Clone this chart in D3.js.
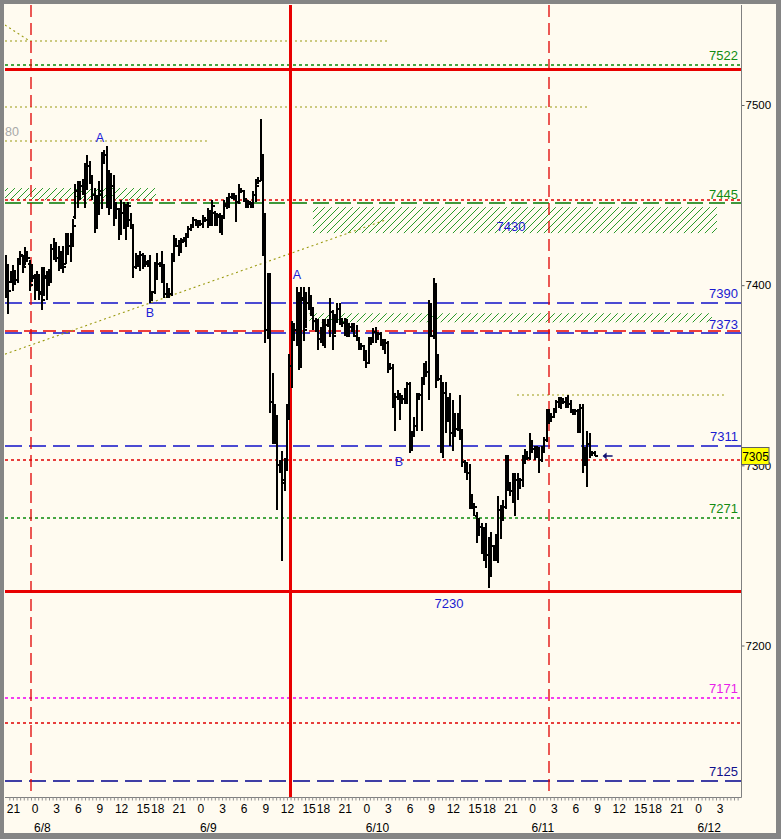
<!DOCTYPE html>
<html>
<head>
<meta charset="utf-8">
<script src="https://cdn.jsdelivr.net/npm/d3@7"></script>
<style>
  html, body { margin: 0; padding: 0; background: #858585; }
  svg { display: block; }
  text { font-family: "Liberation Sans", Arial, sans-serif; }
</style>
</head>
<body>
<svg id="chart" width="781" height="839"></svg>
<script>
// ---- price bars (20-minute bars), oldest first ----
const open = [7400,7410,7402,7405,7406,7403,7413,7416,7411,7418,7412,7403,7404,7398,7402,7396,7395,7404,7401,7405,7420,7418,7415,7412,7415,7412,7425,7422,7425,7438,7452,7448,7455,7452,7460,7466,7460,7450,7434,7445,7450,7470,7472,7450,7445,7455,7440,7442,7436,7440,7443,7435,7436,7432,7410,7415,7412,7417,7414,7412,7412,7392,7396,7410,7412,7411,7404,7395,7397,7395,7414,7425,7422,7420,7425,7425,7428,7431,7433,7436,7434,7435,7434,7437,7436,7440,7435,7440,7434,7438,7432,7438,7444,7446,7449,7450,7448,7446,7453,7452,7447,7444,7445,7444,7450,7457,7458,7470,7430,7375,7400,7335,7318,7315,7300,7298,7290,7302,7328,7355,7370,7375,7392,7365,7392,7378,7390,7393,7386,7380,7377,7370,7374,7368,7378,7379,7385,7374,7382,7387,7381,7379,7376,7373,7377,7375,7372,7370,7366,7366,7360,7357,7368,7370,7374,7371,7373,7369,7366,7368,7355,7354,7335,7338,7337,7335,7337,7341,7345,7315,7317,7322,7338,7339,7346,7354,7352,7385,7372,7398,7358,7348,7330,7340,7325,7333,7318,7325,7320,7327,7318,7302,7300,7296,7280,7278,7272,7263,7266,7255,7260,7250,7240,7255,7250,7258,7275,7270,7277,7300,7290,7286,7283,7292,7288,7292,7302,7307,7304,7313,7309,7305,7309,7303,7308,7314,7328,7325,7327,7330,7335,7333,7336,7335,7337,7334,7330,7329,7330,7320,7332,7302,7308,7312,7306,7307];
const high = [7417,7412,7408,7411,7408,7415,7419,7417,7421,7419,7414,7412,7406,7408,7406,7410,7410,7408,7409,7423,7426,7424,7422,7419,7422,7429,7429,7429,7437,7456,7458,7458,7459,7468,7472,7469,7461,7454,7450,7458,7474,7475,7477,7464,7462,7461,7446,7443,7447,7446,7445,7446,7440,7434,7418,7417,7419,7418,7417,7414,7417,7397,7413,7418,7413,7419,7412,7401,7398,7418,7428,7426,7425,7426,7427,7429,7433,7434,7438,7437,7436,7436,7439,7438,7443,7441,7447,7441,7440,7440,7439,7447,7449,7451,7451,7451,7450,7456,7454,7453,7448,7447,7446,7452,7459,7460,7492,7473,7440,7407,7407,7351,7334,7328,7303,7308,7304,7334,7362,7380,7379,7399,7396,7399,7399,7396,7399,7394,7388,7382,7381,7377,7381,7381,7381,7393,7386,7384,7390,7390,7382,7382,7381,7379,7379,7379,7378,7371,7368,7367,7364,7371,7371,7376,7377,7374,7374,7370,7370,7369,7357,7356,7340,7342,7340,7339,7343,7346,7346,7319,7327,7340,7340,7349,7357,7358,7392,7390,7404,7401,7362,7350,7346,7346,7338,7340,7336,7329,7329,7339,7320,7303,7302,7301,7284,7279,7274,7271,7268,7266,7268,7260,7263,7256,7262,7283,7278,7281,7306,7306,7291,7296,7296,7296,7293,7306,7309,7308,7318,7314,7311,7311,7310,7311,7316,7331,7331,7329,7332,7336,7338,7338,7337,7338,7339,7336,7331,7331,7331,7334,7334,7310,7319,7318,7308,7308];
const low = [7393,7384,7401,7397,7400,7401,7411,7407,7411,7413,7397,7402,7392,7397,7392,7386,7394,7392,7400,7401,7414,7413,7408,7409,7407,7412,7417,7413,7421,7437,7443,7447,7450,7443,7453,7456,7447,7429,7431,7439,7442,7467,7443,7439,7442,7433,7437,7425,7428,7431,7425,7433,7431,7404,7409,7410,7408,7409,7410,7410,7390,7391,7395,7403,7410,7401,7393,7393,7393,7394,7413,7421,7416,7418,7424,7421,7426,7430,7432,7433,7432,7433,7432,7435,7432,7433,7433,7433,7433,7429,7428,7437,7442,7443,7448,7447,7435,7445,7451,7446,7443,7443,7443,7443,7446,7456,7458,7416,7368,7370,7329,7312,7312,7275,7296,7247,7286,7297,7325,7343,7369,7366,7353,7354,7369,7376,7386,7383,7375,7374,7364,7368,7366,7365,7377,7371,7364,7373,7379,7378,7377,7372,7371,7371,7374,7371,7369,7364,7364,7358,7354,7356,7367,7368,7368,7370,7366,7364,7362,7351,7353,7332,7319,7336,7325,7334,7334,7334,7307,7308,7316,7319,7336,7319,7345,7349,7336,7371,7370,7343,7347,7307,7304,7318,7324,7311,7308,7316,7319,7314,7299,7296,7292,7276,7276,7272,7257,7261,7251,7247,7243,7232,7238,7247,7247,7246,7259,7269,7276,7286,7283,7279,7272,7281,7287,7288,7301,7303,7303,7307,7303,7304,7296,7302,7307,7313,7323,7324,7326,7329,7332,7331,7334,7332,7332,7329,7328,7328,7318,7318,7296,7301,7288,7304,7305,7305];
const close = [7410,7397,7405,7408,7403,7413,7417,7410,7418,7415,7400,7405,7398,7404,7395,7392,7405,7400,7406,7420,7418,7415,7412,7416,7410,7425,7422,7426,7433,7452,7448,7455,7452,7460,7466,7460,7450,7432,7445,7452,7470,7472,7450,7445,7455,7438,7442,7436,7440,7443,7433,7444,7432,7410,7416,7412,7417,7414,7413,7411,7392,7396,7410,7412,7411,7403,7395,7398,7395,7414,7425,7422,7420,7424,7426,7428,7431,7433,7436,7434,7435,7434,7437,7436,7441,7435,7444,7434,7439,7432,7438,7445,7446,7449,7450,7448,7446,7453,7452,7448,7444,7446,7444,7450,7455,7458,7470,7430,7375,7400,7335,7318,7315,7300,7298,7292,7302,7328,7355,7370,7375,7392,7365,7393,7375,7390,7394,7386,7380,7377,7370,7374,7368,7378,7379,7385,7372,7382,7387,7381,7379,7376,7373,7377,7375,7372,7370,7366,7366,7360,7357,7368,7370,7374,7370,7373,7369,7366,7368,7355,7354,7335,7338,7337,7335,7337,7341,7345,7315,7317,7322,7337,7339,7345,7354,7352,7385,7372,7398,7360,7348,7330,7340,7325,7333,7318,7325,7320,7327,7318,7302,7300,7296,7280,7278,7277,7262,7266,7255,7260,7250,7240,7255,7250,7258,7275,7270,7277,7300,7290,7286,7283,7292,7288,7292,7302,7307,7304,7313,7309,7305,7309,7303,7308,7314,7328,7325,7327,7330,7335,7333,7337,7335,7337,7334,7330,7329,7330,7320,7332,7300,7308,7312,7306,7307,7305];

// first bar sits 12 slots (4 hours) before 6/8 00:00
const firstSlot = -12;
const lastPrice = 7305;

// ---- time axis: 20-minute slots, 23 trading hours per day (one-hour break after 15:00) ----
const slotsPerDay = 69;
const dayNames = ["6/8", "6/9", "6/10", "6/11", "6/12"];
const hourTicks = [
  { day: -1, hours: [21] },
  { day: 0, hours: [0, 3, 6, 9, 12, 15, 18, 21] },
  { day: 1, hours: [0, 3, 6, 9, 12, 15, 18, 21] },
  { day: 2, hours: [0, 3, 6, 9, 12, 15, 18, 21] },
  { day: 3, hours: [0, 3, 6, 9, 12, 15, 18, 21] },
  { day: 4, hours: [0, 3] }
];
function slotOf(day, hour) {
  return day * slotsPerDay + (hour <= 15 ? hour * 3 : (hour - 1) * 3);
}

// ---- horizontal levels ----
const levelPrices = [7535.5, 7522, 7520, 7499, 7480, 7447, 7445.5, 7390, 7374.7, 7373.4, 7339, 7311, 7303, 7271, 7230, 7171, 7157, 7125];
const levelKinds  = ["olive", "greenShort", "redThick", "olive", "olive", "redDot", "greenLong", "blueLong", "redLong", "blueLong", "olive", "blueLong", "redDot", "greenDot", "redThick", "magenta", "redDot", "navyLong"];
const levelStart  = [null, null, null, null, null, null, null, null, null, null, 200.7, null, null, null, null, null, null, null];
const levelEnd    = [147, null, null, 231, 71.7, null, null, null, null, null, 286.8, null, null, null, null, null, null, null];

// labelled levels on the right edge
const tagValues = [7522, 7445, 7390, 7373, 7311, 7271, 7171, 7125];
const tagKinds  = ["green", "green", "blue", "blue", "blue", "green", "magenta", "navy"];

// ---- hatched zones: [price top, price bottom], [slot from, slot to] ----
const zoneTops    = [7453.9, 7443.3, 7384.4];
const zoneBottoms = [7447.2, 7428.9, 7379.4];
const zoneFrom    = [-12.3, 115.8, 114.3];
const zoneTo      = [50.5, 283.9, 281.8];

// ---- trend lines: [slot, price] pairs ----
const trendLines = [
  [[-12.3, 7361.7], [145.8, 7436.1]],
  [[-12.3, 7544.4], [-2, 7535.5]]
];

// ---- vertical markers (slot) ----
const markerSlots = [-1.5, 106.3, 214.2];
const markerKinds = ["redDash", "redThick", "redDash"];

// ---- wave labels ----
const waveText   = ["A", "B", "A", "B"];
const waveSlot   = [27.2, 48.0, 109.2, 151.6];
const wavePrice  = [7482.2, 7385.0, 7406.1, 7302.2];

// ---- zone captions ----
const captionText  = ["7430", "7230"];
const captionSlot  = [198.2, 172.4];
const captionPrice = [7432.8, 7223.3];

// ================= drawing =================
const W = 781, H = 839;
const plot = { left: 5, right: 741, top: 5, bottom: 797 };

const svg = d3.select("#chart");
const x = d3.scaleLinear().domain([-12.3, 293.9]).range([plot.left, plot.right]);
const y = d3.scaleLinear().domain([7200, 7500]).range([645.5, 105]);

const styles = {
  olive:      { stroke: "#9a9a10", width: 1.1, dash: "2,3" },
  greenShort: { stroke: "#0a8a0a", width: 1.3, dash: "3,3" },
  greenDot:   { stroke: "#0a8a0a", width: 1.3, dash: "3,3" },
  greenLong:  { stroke: "#007800", width: 1.4, dash: "16,6" },
  redThick:   { stroke: "#e80000", width: 3, dash: null },
  redDot:     { stroke: "#e00000", width: 1.3, dash: "3,3" },
  redLong:    { stroke: "#e80000", width: 1.4, dash: "13,6" },
  redDash:    { stroke: "#e00000", width: 1.3, dash: "12,6" },
  blueLong:   { stroke: "#1010c8", width: 1.4, dash: "17,7" },
  navyLong:   { stroke: "#00008c", width: 1.4, dash: "17,7" },
  magenta:    { stroke: "#f000f0", width: 1.3, dash: "3,3" }
};
const tagColors = { green: "#128c12", blue: "#1a1ad0", magenta: "#e820e8", navy: "#10108c" };

// thin lines sit on a pixel boundary so they spread over two rows
const snapY = (v, w) => w >= 2 ? Math.round(y(v)) + 0.5 : Math.round(y(v));
const snapX = (s, w) => w >= 2 ? Math.round(x(s)) + 0.5 : Math.round(x(s));

// window background
svg.append("rect").attr("x", 4).attr("y", 4).attr("width", W - 9).attr("height", H - 10)
  .attr("fill", "#fffbf0");

const defs = svg.append("defs");
defs.append("clipPath").attr("id", "plotClip").append("rect")
  .attr("x", plot.left).attr("y", plot.top)
  .attr("width", plot.right - plot.left).attr("height", plot.bottom - plot.top);

// diagonal hatch for the zones
const hatch = defs.append("pattern").attr("id", "hatch")
  .attr("patternUnits", "userSpaceOnUse").attr("width", 7).attr("height", 7);
hatch.append("path").attr("d", "M-1,8 L8,-1")
  .attr("stroke", "#2a9a2a").attr("stroke-width", 1);

const g = svg.append("g").attr("clip-path", "url(#plotClip)");

// hatched zones
g.selectAll("rect.zone").data(zoneTops).join("rect").attr("class", "zone")
  .attr("x", (d, i) => x(zoneFrom[i]))
  .attr("width", (d, i) => x(zoneTo[i]) - x(zoneFrom[i]))
  .attr("y", d => y(d))
  .attr("height", (d, i) => y(zoneBottoms[i]) - y(d))
  .attr("fill", "url(#hatch)");

// horizontal levels
g.selectAll("line.level").data(levelPrices).join("line").attr("class", "level")
  .attr("x1", (d, i) => levelStart[i] == null ? plot.left : x(levelStart[i]))
  .attr("x2", (d, i) => levelEnd[i] == null ? plot.right : x(levelEnd[i]))
  .attr("y1", (d, i) => snapY(d, styles[levelKinds[i]].width))
  .attr("y2", (d, i) => snapY(d, styles[levelKinds[i]].width))
  .attr("stroke", (d, i) => styles[levelKinds[i]].stroke)
  .attr("stroke-width", (d, i) => styles[levelKinds[i]].width)
  .attr("stroke-dasharray", (d, i) => styles[levelKinds[i]].dash);

// trend lines
g.selectAll("line.trend").data(trendLines).join("line").attr("class", "trend")
  .attr("x1", d => x(d[0][0])).attr("y1", d => y(d[0][1]))
  .attr("x2", d => x(d[1][0])).attr("y2", d => y(d[1][1]))
  .attr("stroke", styles.olive.stroke).attr("stroke-width", 1.1)
  .attr("stroke-dasharray", "2,3");

// vertical markers
g.selectAll("line.marker").data(markerSlots).join("line").attr("class", "marker")
  .attr("x1", (d, i) => snapX(d, styles[markerKinds[i]].width))
  .attr("x2", (d, i) => snapX(d, styles[markerKinds[i]].width))
  .attr("y1", plot.top).attr("y2", plot.bottom)
  .attr("stroke", (d, i) => styles[markerKinds[i]].stroke)
  .attr("stroke-width", (d, i) => styles[markerKinds[i]].width)
  .attr("stroke-dasharray", (d, i) => styles[markerKinds[i]].dash);

// OHLC bars
const barIdx = d3.range(open.length);
g.selectAll("path.bar").data(barIdx).join("path").attr("class", "bar")
  .attr("d", i => {
    const cx = Math.round(x(firstSlot + i));
    return `M${cx},${y(high[i])}V${y(low[i])}` +
           `M${cx - 2.5},${y(open[i])}H${cx}` +
           `M${cx},${y(close[i])}H${cx + 2.5}`;
  })
  .attr("fill", "none").attr("stroke", "#000").attr("stroke-width", 2)
  .attr("shape-rendering", "crispEdges");

// gray leftover label of the 7480 level, running off the left edge
g.append("text").attr("x", 19).attr("y", y(7480) - 5).attr("text-anchor", "end")
  .attr("font-size", 12.5).attr("fill", "#a8a8a8").text("7480");

// wave labels
g.selectAll("text.wave").data(waveText).join("text").attr("class", "wave")
  .attr("x", (d, i) => x(waveSlot[i])).attr("y", (d, i) => y(wavePrice[i]) + 4.5)
  .attr("text-anchor", "middle").attr("font-size", 12.5).attr("fill", "#2020d8")
  .text(d => d);

// zone captions
g.selectAll("text.caption").data(captionText).join("text").attr("class", "caption")
  .attr("x", (d, i) => x(captionSlot[i])).attr("y", (d, i) => y(captionPrice[i]) + 4.5)
  .attr("text-anchor", "middle").attr("font-size", 13).attr("fill", "#1a1ad0")
  .text(d => d);

// right-edge level tags
g.selectAll("text.tag").data(tagValues).join("text").attr("class", "tag")
  .attr("x", 738).attr("y", d => y(d) - 5)
  .attr("text-anchor", "end").attr("font-size", 13)
  .attr("fill", (d, i) => tagColors[tagKinds[i]])
  .text(d => d);

// last-price arrow
const ax = x(238.4), ay = Math.round(y(lastPrice));
g.append("path").attr("d", `M${ax - 4},${ay}H${ax + 5}`)
  .attr("stroke", "#101070").attr("stroke-width", 1.5);
g.append("path").attr("d", `M${ax - 5},${ay}L${ax - 1},${ay - 3.5}L${ax - 1},${ay + 3.5}Z`)
  .attr("fill", "#101070");

// ---- axes ----
// right price axis
const yAxis = d3.axisRight(y).tickValues([7200, 7300, 7400, 7500])
  .tickSize(3).tickSizeOuter(0).tickPadding(1).tickFormat(d3.format("d"));
const ya = svg.append("g").attr("transform", `translate(${plot.right + 0.5},0)`).call(yAxis);
ya.select(".domain").remove();
ya.selectAll("line").attr("stroke", "#606060");
ya.selectAll("text").attr("font-size", 11.5).attr("fill", "#000")
  .attr("font-family", "Liberation Sans, Arial, sans-serif");

svg.append("line").attr("x1", plot.right + 0.5).attr("x2", plot.right + 0.5)
  .attr("y1", plot.top).attr("y2", plot.bottom + 0.5).attr("stroke", "#808080");
svg.append("line").attr("x1", plot.left).attr("x2", plot.right + 0.5)
  .attr("y1", plot.bottom + 0.5).attr("y2", plot.bottom + 0.5).attr("stroke", "#808080");

// bottom time axis: minor half-hour ticks
const minorSlots = d3.range(-10.5, 293, 1.5);
const xMinor = d3.axisBottom(x).tickValues(minorSlots).tickSize(3).tickFormat("").tickSizeOuter(0);
const xm = svg.append("g").attr("transform", `translate(0,${plot.bottom + 0.5})`).call(xMinor);
xm.select(".domain").remove();
xm.selectAll("line").attr("stroke", "#909090");

// hour labels
const hourSlots = [], hourNames = {};
hourTicks.forEach(t => t.hours.forEach(h => {
  const s = slotOf(t.day, h);
  hourSlots.push(s);
  hourNames[s] = String(h);
}));
const xHours = d3.axisBottom(x).tickValues(hourSlots).tickSize(0).tickPadding(0)
  .tickFormat(s => hourNames[s]);
const xh = svg.append("g").attr("transform", `translate(0,${plot.bottom + 7.5})`).call(xHours);
xh.select(".domain").remove();
xh.selectAll("text").attr("font-size", 12).attr("fill", "#000")
  .attr("font-family", "Liberation Sans, Arial, sans-serif");

// date labels
svg.selectAll("text.date").data(dayNames).join("text").attr("class", "date")
  .attr("x", (d, i) => x(slotOf(i, 0)) - 0.5).attr("y", 832)
  .attr("font-size", 12).attr("fill", "#000").text(d => d);

// current price box
const by = y(lastPrice);
svg.append("rect").attr("x", plot.right + 0.5).attr("y", Math.round(by) - 8.5)
  .attr("width", 27.5).attr("height", 17)
  .attr("fill", "#ffff00").attr("stroke", "#606060").attr("stroke-width", 1);
svg.append("text").attr("x", plot.right + 14.5).attr("y", Math.round(by) + 4.5)
  .attr("text-anchor", "middle").attr("font-size", 12).attr("fill", "#000")
  .text(lastPrice);
</script>
</body>
</html>
